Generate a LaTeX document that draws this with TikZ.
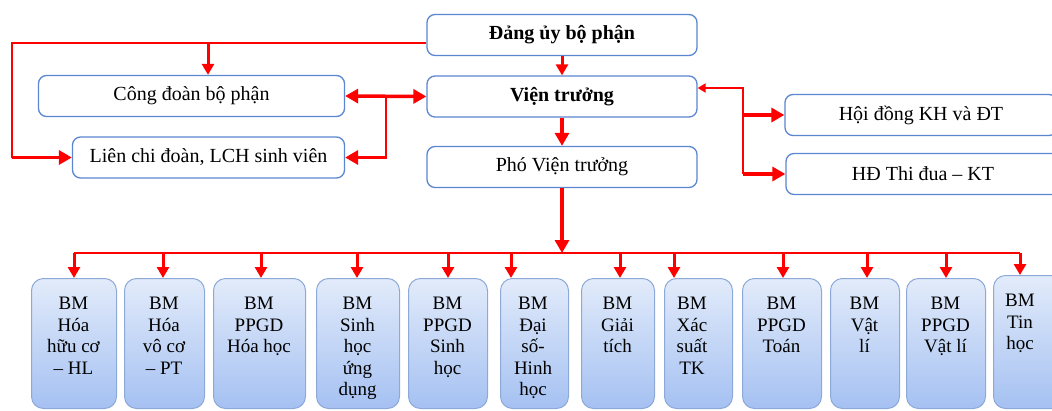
\documentclass[tikz,border=0pt]{standalone}
\usepackage{fontspec}
\setmainfont{Liberation Serif}
\usetikzlibrary{arrows.meta}

\tikzset{
    hop/.style={draw=hopvien, line width=1.3pt, rounded corners=8pt, fill=white,
        minimum height=41pt, inner sep=0pt, font=\fontsize{20}{24}\selectfont},
    bmhop/.style={draw=bmvien, line width=1pt, rounded corners=12pt,
        top color=bmtren, bottom color=bmduoi, inner sep=0pt},
    bmchu/.style={anchor=north, inner sep=0pt, align=center,
        font=\fontsize{19}{21.5}\selectfont},
    mong/.style={draw=red, line width=2pt},
    muiday/.style={draw=red, line width=3.5pt, -{Triangle[length=13pt,width=14pt]}},
    muinho/.style={draw=red, line width=3pt, -{Triangle[length=11pt,width=12pt]}},
}

\begin{document}
\begin{tikzpicture}[x=1pt,y=-1pt]
        %mau
        \definecolor{hopvien}{HTML}{5B86D0}
        \definecolor{bmvien}{HTML}{8CA9D8}
        \definecolor{bmtren}{HTML}{E2EBFA}
        \definecolor{bmduoi}{HTML}{A5C1F2}

        \useasboundingbox (0,0) rectangle (1052,410);
        \clip (0,0) rectangle (1052,410);

        % Cac hop tren
        \node[hop, minimum width=270pt, font=\fontsize{20}{24}\selectfont\bfseries] (dang) at (562,35) {Đảng ủy bộ phận};
        \node[hop, minimum width=270pt, font=\fontsize{20}{24}\selectfont\bfseries] (vien) at (562,96.5) {Viện trưởng};
        \node[hop, minimum width=270pt] (pho) at (562,167) {Phó Viện trưởng};
        \node[hop, minimum width=306pt] (cong) at (191.5,96) {Công đoàn bộ phận};
        \node[hop, minimum width=272pt] (lcd) at (208.5,157.5) {Liên chi đoàn, LCH sinh viên};
        \node[hop, minimum width=272pt] (hdkh) at (921,115) {Hội đồng KH và ĐT};
        \node[hop, minimum width=274pt] (hdtd) at (923,174) {HĐ Thi đua – KT};

        % Duong noi phia tren
        \coordinate (b1) at (208,43);
        \coordinate (b2) at (386,96);
        \coordinate (b3) at (743,88);
        \draw[mong] ([yshift=-8pt]dang.west) -- (12,43) -- (12,157.5);
        \draw[muiday] (12,157.5) -- (lcd.west);
        \draw[muinho] (b1) -- (b1 |- cong.north);
        \draw[muiday, {Triangle[length=13pt,width=14pt]}-{Triangle[length=13pt,width=14pt]}] (cong.east) -- (vien.west);
        \draw[mong] (b2) -- (b2 |- lcd.east);
        \draw[muiday] ([xshift=1pt]b2 |- lcd.east) -- (lcd.east);
        \draw[muinho] (dang.south) -- (vien.north);
        \draw[muiday] (vien.south) -- (pho.north);
        \draw[mong, {Triangle[length=8pt,width=9pt]}-] (vien.east |- b3) -- (b3) -- (b3 |- hdtd.west);
        \draw[muiday] (b3 |- hdkh.west) -- (hdkh.west);
        \draw[muiday] (b3 |- hdtd.west) -- (hdtd.west);

        % Thanh ngang va cac bo mon
        \coordinate (bus) at (562,253);
        \draw[muiday] (pho.south) -- (bus);
        \draw[mong] (74,253) -- (1020,253);
        \foreach \i/\l/\r/\t/\ax/\tx/\txt in {
            1/31/116/278/74/73.5/{BM\\Hóa\\hữu cơ\\– HL},
            2/124/204/278/163/164/{BM\\Hóa\\vô cơ\\– PT},
            3/213/305/278/261/259/{BM\\PPGD\\Hóa học},
            4/316/399/278/357/357.5/{BM\\Sinh\\học\\ứng\\dụng},
            5/408/487/278/448/447.5/{BM\\PPGD\\Sinh\\học},
            6/500/568/278/511/533/{BM\\Đại\\số-\\Hinh\\học},
            7/581/654/278/620/617.5/{BM\\Giải\\tích},
            8/664/732/278/674/692/{BM\\Xác\\suất\\TK},
            9/742/821/278/783/781.5/{BM\\PPGD\\Toán},
            10/830/899/278/867/864.5/{BM\\Vật\\lí},
            11/906/985/278/946/945.5/{BM\\PPGD\\Vật lí},
            12/993/1075/275/1020/1020/{BM\\Tin\\học}}
        {
            \node[bmhop, minimum width=\r-\l, minimum height=408-\t, anchor=north west] (bm\i) at (\l,\t) {};
            \node[bmchu] (chu\i) at ([yshift=-19pt]\tx,\t) {\txt};
            \coordinate (a\i) at (\ax,253);
            \draw[muinho] (a\i) -- (a\i |- bm\i.north);
        }
    \end{tikzpicture}
\end{document}
